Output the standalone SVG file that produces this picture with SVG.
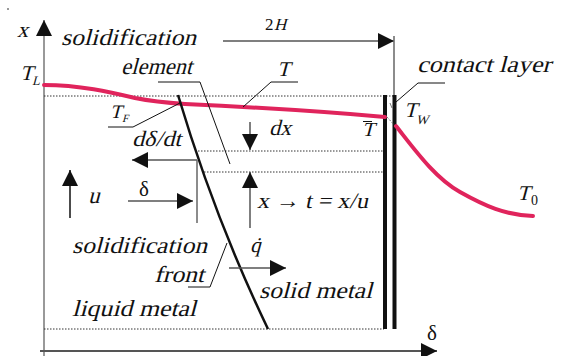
<svg xmlns="http://www.w3.org/2000/svg" width="563" height="356" viewBox="0 0 563 356" font-family="'Liberation Serif', 'Times New Roman', serif">
<defs>
<marker id="ah" markerUnits="userSpaceOnUse" markerWidth="16" markerHeight="16" viewBox="0 0 16 16" refX="16" refY="8" orient="auto">
<path d="M0,0 L16,8 L0,16 Z" fill="#111"/>
</marker>
<style>
text, tspan { font-family: 'Liberation Serif', 'Times New Roman', serif; fill: #111; font-style: normal; }
.lbl { font-size: 23px; }
.sub { font-size: 13px; }
.dot { stroke: #333; stroke-width: 1; stroke-dasharray: 1.5 1.5; fill: none; }
.ld { stroke: #111; stroke-width: 1; fill: none; }
.gr { stroke: #666; stroke-width: 1.5; fill: none; }
.ar { stroke: #555; stroke-width: 1.5; fill: none; marker-end: url(#ah); }
.red { stroke: #e0245c; stroke-width: 4; fill: none; stroke-linecap: round; }
.wall { stroke: #111; stroke-width: 4; fill: none; }
</style>
</defs>
<rect width="563" height="356" fill="#fff"/>
<line x1="7" y1="9" x2="9" y2="9" stroke="#333" stroke-width="1"/>

<g id="axes">
<line x1="44" y1="356" x2="44" y2="20" stroke="#777" stroke-width="1.5" marker-end="url(#ah)"/>
<line x1="40" y1="351" x2="437" y2="351" stroke="#555" stroke-width="2" marker-end="url(#ah)"/>
<text transform="translate(17,37) skewX(-15)" font-size="22">x</text>
<text x="427" y="340" font-size="21">δ</text>
</g>

<g id="grid">
<line class="dot" x1="44" y1="96" x2="395" y2="96"/>
<line class="dot" x1="198" y1="151" x2="384" y2="151"/>
<line class="dot" x1="204" y1="172" x2="384" y2="172"/>
<line class="dot" x1="44" y1="329" x2="384" y2="329"/>
</g>

<g id="walls">
<line class="wall" x1="385" y1="95" x2="385" y2="329"/>
<line class="wall" x1="394.5" y1="95" x2="394.5" y2="329"/>
<line x1="387" y1="117" x2="396" y2="127" stroke="#555" stroke-width="0.8" stroke-dasharray="2 1.5"/>
<line x1="390" y1="103" x2="392" y2="108" stroke="#555" stroke-width="0.8"/>
</g>

<g id="temperature">
<path class="red" d="M44,85 C 80,85 110,92 135,98 C 155,102 170,103 185,104 C 250,107 330,112 385,117"/>
<path class="red" d="M396,126 C 415,150 435,178 460,192 C 485,206 505,215 533,216"/>
</g>

<g id="front">
<path d="M178,95 Q 215,219 268,329" stroke="#111" stroke-width="2.5" fill="none"/>
</g>

<g id="connectors">
<line class="ar" x1="223" y1="41" x2="394" y2="41"/>
<line class="gr" x1="394" y1="36" x2="394" y2="95"/>
<line class="ar" x1="197" y1="160" x2="132" y2="160"/>
<line class="gr" x1="197" y1="160" x2="197" y2="223"/>
<line class="ar" x1="128" y1="201" x2="193" y2="201"/>
<line x1="70" y1="218" x2="70" y2="170" stroke="#111" stroke-width="1.5" marker-end="url(#ah)"/>
<line class="ar" x1="250" y1="122" x2="250" y2="150"/>
<line class="ar" x1="250" y1="228" x2="250" y2="172"/>
<line class="ar" x1="229" y1="268" x2="286" y2="268"/>
<polyline class="ld" points="158,82 200,82 230,164"/>
<polyline class="ld" points="298,82 271,82 243,107"/>
<polyline class="ld" points="108,127 133,127 180,103"/>
<polyline class="ld" points="188,287 210,287 227,243"/>
<polyline class="ld" points="445,83 418,83 396,102"/>
</g>

<g id="label-2H"><text x="265" y="30" font-size="17">2</text><text transform="translate(274,30) skewX(-15)" font-size="17">H</text></g>
<g id="label-TL"><text transform="translate(20,80) skewX(-15)" font-size="21">T</text><text class="sub" transform="translate(32,85) skewX(-15)">L</text></g>
<g id="label-sol-element">
<text class="lbl" transform="translate(61,45) skewX(-15)" textLength="135" lengthAdjust="spacingAndGlyphs">solidification</text>
<text class="lbl" transform="translate(121,74) skewX(-15)" textLength="71" lengthAdjust="spacingAndGlyphs">element</text>
</g>
<g id="label-T"><text transform="translate(277,76) skewX(-15)" font-size="21">T</text></g>
<g id="label-TF"><text transform="translate(110,118) skewX(-15)" font-size="19">T</text><text transform="translate(122,122) skewX(-15)" font-size="11">F</text></g>
<g id="label-ddt"><text transform="translate(132,146) skewX(-15)" font-size="22" textLength="49" lengthAdjust="spacingAndGlyphs">dδ/dt</text></g>
<g id="label-dx"><text transform="translate(269,135) skewX(-15)" font-size="22">dx</text></g>
<g id="label-Tbar"><text transform="translate(362,136) skewX(-15)" font-size="20">T</text><line x1="363" y1="121.5" x2="372" y2="121.5" stroke="#111" stroke-width="1"/></g>
<g id="label-TW"><text transform="translate(404,117) skewX(-15)" font-size="21">T</text><text class="sub" transform="translate(416,124) skewX(-15)">W</text></g>
<g id="label-contact"><text class="lbl" transform="translate(417,72) skewX(-15)" textLength="134" lengthAdjust="spacingAndGlyphs">contact layer</text></g>
<g id="label-u"><text transform="translate(88,203) skewX(-15)" font-size="23">u</text></g>
<g id="label-delta"><text x="139" y="196" font-size="21">δ</text></g>
<g id="label-xt"><text transform="translate(257,208) skewX(-12)" font-size="22" textLength="111" lengthAdjust="spacingAndGlyphs">x → t = x/u</text></g>
<g id="label-T0"><text transform="translate(517,200) skewX(-15)" font-size="21">T</text><text x="531" y="205" font-size="14">0</text></g>
<g id="label-sol-front">
<text class="lbl" transform="translate(72,253) skewX(-15)" textLength="135" lengthAdjust="spacingAndGlyphs">solidification</text>
<text class="lbl" transform="translate(154,282) skewX(-15)" textLength="50" lengthAdjust="spacingAndGlyphs">front</text>
</g>
<g id="label-qdot"><text transform="translate(250,252) skewX(-15)" font-size="21">q̇</text></g>
<g id="label-solid"><text class="lbl" transform="translate(259,298) skewX(-15)" textLength="113" lengthAdjust="spacingAndGlyphs">solid metal</text></g>
<g id="label-liquid"><text class="lbl" transform="translate(72,316) skewX(-15)" textLength="124" lengthAdjust="spacingAndGlyphs">liquid metal</text></g>
</svg>
